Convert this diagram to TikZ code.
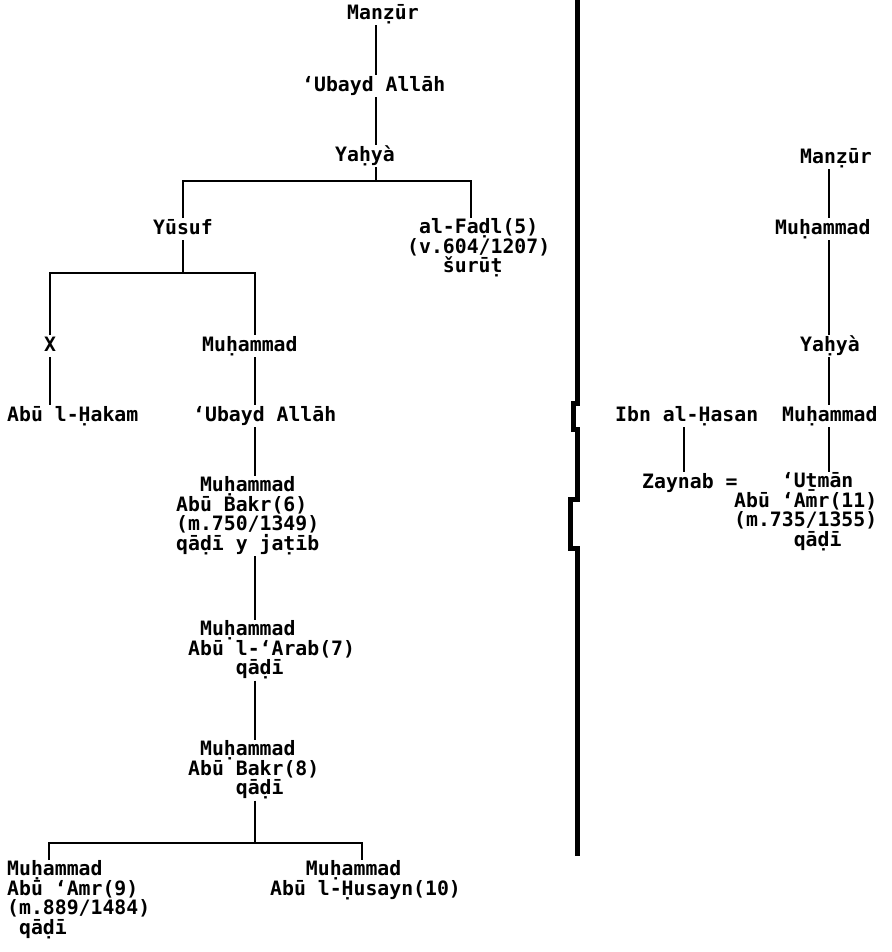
\documentclass[tikz,border=0pt]{standalone}
\usepackage{fontspec}
\newfontfamily\namefont{DejaVu Sans Mono}
\newcommand\namesize{\namefont\bfseries\fontsize{19.8pt}{19.8pt}\selectfont
  \lineskiplimit=-20pt\relax\lineskip=0pt\relax}
\newcommand\topstrut{\rule{0pt}{16.5pt}}
\newcommand\botstrut{\rule[-5.5pt]{0pt}{5.5pt}}
\newcommand\pad[1]{\hphantom{#1}}
\tikzset{
  nm/.style={anchor=north west, inner sep=0pt, align=left, font=\namesize,
    execute at begin node=\topstrut, execute at end node=\botstrut},
  link/.style={line width=2.1pt},
  divider/.style={line width=5pt}
}
\begin{document}
\begin{tikzpicture}[x=1pt, y=-1pt]
\useasboundingbox[fill=white] (0,0) rectangle (891,952);

% column positions of the descent lines
\coordinate (colA) at (376,0);
\coordinate (colY) at (183,0);
\coordinate (colF) at (471,0);
\coordinate (colX) at (50,0);
\coordinate (colM) at (255,0);
\coordinate (col9) at (49,0);
\coordinate (col10) at (362,0);
\coordinate (colR) at (829,0);
\coordinate (colI) at (684,0);
% junctions of the sibling bars
\coordinate (j1) at (376,181);
\coordinate (j2) at (183,273);
\coordinate (j3) at (255,843);

% ---- left family ----
\node[nm] (mzA) at (347,3) {Manẓūr};
\node[nm] (ubA) at (302,75) {‘Ubayd Allāh};
\node[nm] (yhA) at (335,145) {Yaḥyà};
\node[nm] (yus) at (153,218) {Yūsuf};
\node[nm] (fadl) at (407,218) {\pad{x}al-Faḍl(5)\\(v.604/1207)\\\pad{xxx}šurūṭ};
\node[nm] (xx) at (44,335) {X};
\node[nm] (muA) at (202,335) {Muḥammad};
\node[nm] (hakam) at (7,405) {Abū l-Ḥakam};
\node[nm] (ubB) at (193,405) {‘Ubayd Allāh};
\node[nm] (m6) at (176,476) {\pad{xx}Muḥammad\\Abū Bakr(6)\\(m.750/1349)\\qāḍī y jaṭīb};
\node[nm] (m7) at (188,620) {\pad{x}Muḥammad\\Abū l-‘Arab(7)\\\pad{xxxx}qāḍī};
\node[nm] (m8) at (188,740) {\pad{x}Muḥammad\\Abū Bakr(8)\\\pad{xxxx}qāḍī};
\node[nm] (m9) at (7,860) {Muḥammad\\Abū ‘Amr(9)\\(m.889/1484)\\\pad{x}qāḍī};
\node[nm] (m10) at (270,860) {\pad{xxx}Muḥammad\\Abū l-Ḥusayn(10)};

\draw[link] (mzA.south -| colA) -- (ubA.north -| colA);
\draw[link] (ubA.south -| colA) -- (yhA.north -| colA);
\draw[link] (yhA.south -| colA) -- (j1);
\draw[link] (yus.north -| colY) |- (j1) -| (fadl.north -| colF);
\draw[link] (yus.south -| colY) -- (j2);
\draw[link] (xx.north -| colX) |- (j2) -| (muA.north -| colM);
\draw[link] (xx.south -| colX) -- (hakam.north -| colX);
\draw[link] (muA.south -| colM) -- (ubB.north -| colM);
\draw[link] (ubB.south -| colM) -- (m6.north -| colM);
\draw[link] (m6.south -| colM) -- (m7.north -| colM);
\draw[link] (m7.south -| colM) -- (m8.north -| colM);
\draw[link] (m8.south -| colM) -- (j3);
\draw[link] (m9.north -| col9) |- (j3) -| (m10.north -| col10);

% ---- dividing rule ----
\draw[divider] (577.5,0) -- (577.5,403) -- (573.5,403) -- (573.5,429) -- (577,429)
  -- (577,499) -- (570.5,499) -- (570.5,548) -- (577,548) -- (577,856);

% ---- right family ----
\node[nm] (mzB) at (800,147) {Manẓūr};
\node[nm] (muB) at (775,218) {Muḥammad};
\node[nm] (yhB) at (800,335) {Yaḥyà};
\node[nm] (ibn) at (615,405) {Ibn al-Ḥasan};
\node[nm] (muC) at (782,405) {Muḥammad};
\node[nm] (zay) at (642,472) {Zaynab =};
\node[nm] (m11) at (734,472) {\pad{xxxx}‘Uṯmān\\Abū ‘Amr(11)\\(m.735/1355)\\\pad{xxxxx}qāḍī};

\draw[link] (mzB.south -| colR) -- (muB.north -| colR);
\draw[link] (muB.south -| colR) -- (yhB.north -| colR);
\draw[link] (yhB.south -| colR) -- (muC.north -| colR);
\draw[link] (muC.south -| colR) -- (m11.north -| colR);
\draw[link] (ibn.south -| colI) -- (zay.north -| colI);
\end{tikzpicture}
\end{document}
